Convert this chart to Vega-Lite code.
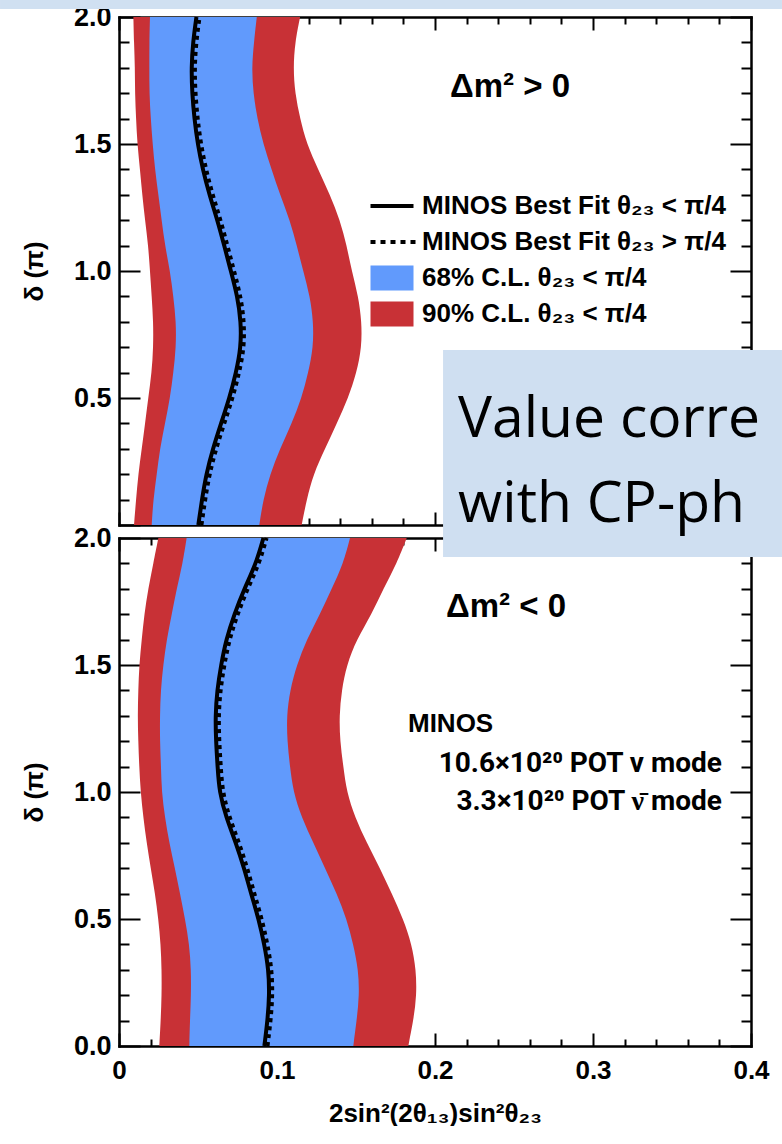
{
  "$schema": "https://vega.github.io/schema/vega-lite/v6.json",
  "padding": 0,
  "bounds": "flush",
  "spacing": 13,
  "background": "white",
  "config": {
    "view": {"stroke": null},
    "font": "Liberation Sans",
    "axis": {
      "grid": false,
      "domainColor": "black",
      "domainWidth": 2.5,
      "domainCap": "square",
      "tickColor": "black",
      "tickWidth": 2,
      "labelOverlap": false,
      "labelFlush": false,
      "labelFont": "Liberation Sans",
      "labelFontWeight": "bold",
      "labelColor": "black",
      "titleColor": "black",
      "titleFont": "Liberation Sans",
      "titleFontWeight": "bold",
      "zindex": 1
    }
  },
  "resolve": {"scale": {"color": "independent"}, "legend": {"color": "independent"}},
  "datasets": {
    "top": [
      {"d": 0.0, "rl": 0.0095, "bl": 0.0207, "bf": 0.0502, "bf2": 0.0522, "br": 0.0888, "rr": 0.1156},
      {"d": 0.1, "rl": 0.0108, "bl": 0.0217, "bf": 0.0525, "bf2": 0.0545, "br": 0.0913, "rr": 0.1188},
      {"d": 0.2, "rl": 0.0122, "bl": 0.0239, "bf": 0.0552, "bf2": 0.0572, "br": 0.0956, "rr": 0.1230},
      {"d": 0.3, "rl": 0.0144, "bl": 0.0259, "bf": 0.0594, "bf2": 0.0614, "br": 0.1019, "rr": 0.1304},
      {"d": 0.4, "rl": 0.0165, "bl": 0.0291, "bf": 0.0646, "bf2": 0.0666, "br": 0.1093, "rr": 0.1378},
      {"d": 0.5, "rl": 0.0185, "bl": 0.0323, "bf": 0.0699, "bf2": 0.0719, "br": 0.1156, "rr": 0.1451},
      {"d": 0.6, "rl": 0.0207, "bl": 0.0344, "bf": 0.0741, "bf2": 0.0761, "br": 0.1198, "rr": 0.1504},
      {"d": 0.7, "rl": 0.0217, "bl": 0.0361, "bf": 0.0772, "bf2": 0.0792, "br": 0.1230, "rr": 0.1536},
      {"d": 0.8, "rl": 0.0217, "bl": 0.0361, "bf": 0.0772, "bf2": 0.0792, "br": 0.1230, "rr": 0.1536},
      {"d": 0.9, "rl": 0.0207, "bl": 0.0344, "bf": 0.0750, "bf2": 0.0770, "br": 0.1209, "rr": 0.1515},
      {"d": 1.0, "rl": 0.0196, "bl": 0.0323, "bf": 0.0708, "bf2": 0.0728, "br": 0.1166, "rr": 0.1473},
      {"d": 1.1, "rl": 0.0185, "bl": 0.0291, "bf": 0.0666, "bf2": 0.0686, "br": 0.1125, "rr": 0.1441},
      {"d": 1.2, "rl": 0.0165, "bl": 0.0270, "bf": 0.0623, "bf2": 0.0643, "br": 0.1082, "rr": 0.1399},
      {"d": 1.3, "rl": 0.0147, "bl": 0.0249, "bf": 0.0572, "bf2": 0.0592, "br": 0.1019, "rr": 0.1335},
      {"d": 1.4, "rl": 0.0133, "bl": 0.0228, "bf": 0.0530, "bf2": 0.0550, "br": 0.0966, "rr": 0.1261},
      {"d": 1.5, "rl": 0.0116, "bl": 0.0213, "bf": 0.0498, "bf2": 0.0518, "br": 0.0913, "rr": 0.1188},
      {"d": 1.6, "rl": 0.0108, "bl": 0.0201, "bf": 0.0477, "bf2": 0.0497, "br": 0.0875, "rr": 0.1146},
      {"d": 1.7, "rl": 0.0101, "bl": 0.0192, "bf": 0.0463, "bf2": 0.0483, "br": 0.0850, "rr": 0.1114},
      {"d": 1.8, "rl": 0.0101, "bl": 0.0192, "bf": 0.0458, "bf2": 0.0478, "br": 0.0840, "rr": 0.1103},
      {"d": 1.9, "rl": 0.0095, "bl": 0.0192, "bf": 0.0468, "bf2": 0.0488, "br": 0.0854, "rr": 0.1114},
      {"d": 2.0, "rl": 0.0091, "bl": 0.0196, "bf": 0.0490, "bf2": 0.0510, "br": 0.0872, "rr": 0.1146}
    ],
    "bottom": [
      {"d": 0.0, "rl": 0.0255, "bl": 0.0445, "bf": 0.0920, "bf2": 0.0940, "br": 0.1483, "rr": 0.1831},
      {"d": 0.1, "rl": 0.0264, "bl": 0.0449, "bf": 0.0940, "bf2": 0.0960, "br": 0.1504, "rr": 0.1863},
      {"d": 0.2, "rl": 0.0270, "bl": 0.0456, "bf": 0.0952, "bf2": 0.0972, "br": 0.1521, "rr": 0.1884},
      {"d": 0.3, "rl": 0.0270, "bl": 0.0456, "bf": 0.0947, "bf2": 0.0967, "br": 0.1515, "rr": 0.1880},
      {"d": 0.4, "rl": 0.0264, "bl": 0.0445, "bf": 0.0920, "bf2": 0.0940, "br": 0.1483, "rr": 0.1853},
      {"d": 0.5, "rl": 0.0249, "bl": 0.0418, "bf": 0.0884, "bf2": 0.0904, "br": 0.1441, "rr": 0.1799},
      {"d": 0.6, "rl": 0.0228, "bl": 0.0386, "bf": 0.0836, "bf2": 0.0856, "br": 0.1378, "rr": 0.1726},
      {"d": 0.7, "rl": 0.0201, "bl": 0.0354, "bf": 0.0792, "bf2": 0.0812, "br": 0.1304, "rr": 0.1652},
      {"d": 0.8, "rl": 0.0175, "bl": 0.0318, "bf": 0.0740, "bf2": 0.0760, "br": 0.1230, "rr": 0.1568},
      {"d": 0.9, "rl": 0.0154, "bl": 0.0291, "bf": 0.0678, "bf2": 0.0698, "br": 0.1156, "rr": 0.1494},
      {"d": 1.0, "rl": 0.0137, "bl": 0.0270, "bf": 0.0635, "bf2": 0.0655, "br": 0.1103, "rr": 0.1441},
      {"d": 1.1, "rl": 0.0128, "bl": 0.0266, "bf": 0.0624, "bf2": 0.0644, "br": 0.1082, "rr": 0.1420},
      {"d": 1.2, "rl": 0.0122, "bl": 0.0259, "bf": 0.0614, "bf2": 0.0634, "br": 0.1065, "rr": 0.1399},
      {"d": 1.3, "rl": 0.0118, "bl": 0.0259, "bf": 0.0610, "bf2": 0.0630, "br": 0.1061, "rr": 0.1394},
      {"d": 1.4, "rl": 0.0122, "bl": 0.0264, "bf": 0.0621, "bf2": 0.0641, "br": 0.1082, "rr": 0.1409},
      {"d": 1.5, "rl": 0.0128, "bl": 0.0280, "bf": 0.0646, "bf2": 0.0666, "br": 0.1125, "rr": 0.1441},
      {"d": 1.6, "rl": 0.0144, "bl": 0.0302, "bf": 0.0678, "bf2": 0.0698, "br": 0.1188, "rr": 0.1504},
      {"d": 1.7, "rl": 0.0160, "bl": 0.0334, "bf": 0.0730, "bf2": 0.0750, "br": 0.1272, "rr": 0.1599},
      {"d": 1.8, "rl": 0.0185, "bl": 0.0365, "bf": 0.0793, "bf2": 0.0813, "br": 0.1346, "rr": 0.1673},
      {"d": 1.9, "rl": 0.0217, "bl": 0.0403, "bf": 0.0868, "bf2": 0.0888, "br": 0.1420, "rr": 0.1758},
      {"d": 2.0, "rl": 0.0249, "bl": 0.0428, "bf": 0.0914, "bf2": 0.0934, "br": 0.1462, "rr": 0.1821}
    ]
  },
  "vconcat": [
    {
      "width": 632,
      "height": 508,
      "data": {"name": "top"},
      "resolve": {"axis": {"x": "independent", "y": "independent"}},
      "layer": [
        {
          "data": {"values": [{"part": "banner"}]},
          "mark": {"type": "rect", "color": "#d0e0f1"},
          "encoding": {
            "x": {"datum": -0.0753, "type": "quantitative", "scale": {"domain": [0, 0.4], "nice": false, "zero": false}, "axis": null},
            "x2": {"datum": 0.4196},
            "y": {"datum": 2.0669, "type": "quantitative", "scale": {"domain": [0, 2], "nice": false, "zero": false}, "axis": null},
            "y2": {"datum": 2.0315}
          }
        },
        {
          "mark": {"type": "area", "orient": "horizontal", "interpolate": "basis"},
          "encoding": {
            "y": {"field": "d", "type": "quantitative", "scale": {"domain": [0, 2], "nice": false, "zero": false},
              "axis": {"orient": "left", "values": [0,0.1,0.2,0.3,0.4,0.5,0.6,0.7,0.8,0.9,1,1.1,1.2,1.3,1.4,1.5,1.6,1.7,1.8,1.9,2],
                "labelExpr": "(abs(datum.value*2-round(datum.value*2))<0.001 && datum.value>0.01) ? format(datum.value,'.1f') : ''",
                "labelFontSize": 27, "labelPadding": 29, "labelAlign": "right", "labelBaseline": "middle",
                "tickSize": {"condition": {"test": "abs(datum.value*2-round(datum.value*2))<0.001", "value": -21}, "value": -10},
                "title": "δ (π)", "titleFontSize": 26, "titlePadding": 26}},
            "x": {"field": "rl", "type": "quantitative", "scale": {"domain": [0, 0.4], "nice": false, "zero": false},
              "axis": {"orient": "bottom", "values": [0,0.02,0.04,0.06,0.08,0.1,0.12,0.14,0.16,0.18,0.2,0.22,0.24,0.26,0.28,0.3,0.32,0.34,0.36,0.38,0.4],
                "labels": false, "title": null,
                "tickSize": {"condition": {"test": "abs(datum.value*10-round(datum.value*10))<0.001", "value": -13}, "value": -7}}},
            "x2": {"field": "rr"},
            "color": {"datum": "90% C.L. θ₂₃ < π/4", "type": "nominal",
              "scale": {"domain": ["MINOS Best Fit θ₂₃ < π/4", "MINOS Best Fit θ₂₃ > π/4", "68% C.L. θ₂₃ < π/4", "90% C.L. θ₂₃ < π/4"],
                "range": ["black", "black", "#619afc", "#c83136"]},
              "legend": {"orient": "none", "legendX": 260, "legendY": 176, "title": null, "padding": 0,
                "symbolSize": 625, "symbolStrokeWidth": 0,
                "labelFont": "Liberation Sans", "labelFontSize": 26, "labelFontWeight": "bold", "labelColor": "black",
                "labelOffset": 17, "rowPadding": 10, "labelLimit": 0, "labelBaseline": "middle",
                "encode": {"symbols": {"update": {
                  "shape": {"signal": "datum.index == 0 ? 'M-1.72,-0.16H1.72V0.16H-1.72Z' : (datum.index == 1 ? 'M-1.72,-0.16h0.4v0.32h-0.4Z M-0.92,-0.16h0.4v0.32h-0.4Z M-0.12,-0.16h0.4v0.32h-0.4Z M0.68,-0.16h0.4v0.32h-0.4Z M1.48,-0.16h0.4v0.32h-0.4Z' : 'M-1.72,-1H1.72V1H-1.72Z')"},
                  "fill": {"signal": "datum.index < 2 ? 'black' : (datum.index == 2 ? '#619afc' : '#c83136')"},
                  "stroke": {"value": "transparent"},
                  "strokeWidth": {"value": 0},
                  "opacity": {"value": 1}
                }}}}}
          }
        },
        {
          "mark": {"type": "area", "orient": "horizontal", "interpolate": "basis"},
          "encoding": {
            "y": {"field": "d", "type": "quantitative", "scale": {"domain": [0, 2], "nice": false, "zero": false},
              "axis": {"orient": "right", "values": [0,0.1,0.2,0.3,0.4,0.5,0.6,0.7,0.8,0.9,1,1.1,1.2,1.3,1.4,1.5,1.6,1.7,1.8,1.9,2],
                "labels": false, "title": null,
                "tickSize": {"condition": {"test": "abs(datum.value*2-round(datum.value*2))<0.001", "value": -21}, "value": -10}}},
            "x": {"field": "bl", "type": "quantitative", "scale": {"domain": [0, 0.4], "nice": false, "zero": false},
              "axis": {"orient": "top", "values": [0,0.02,0.04,0.06,0.08,0.1,0.12,0.14,0.16,0.18,0.2,0.22,0.24,0.26,0.28,0.3,0.32,0.34,0.36,0.38,0.4],
                "labels": false, "title": null,
                "tickSize": {"condition": {"test": "abs(datum.value*10-round(datum.value*10))<0.001", "value": -13}, "value": -7}}},
            "x2": {"field": "br"},
            "color": {"datum": "68% C.L. θ₂₃ < π/4", "type": "nominal"}
          }
        },
        {
          "mark": {"type": "line", "interpolate": "basis", "strokeWidth": 4, "strokeCap": "butt"},
          "encoding": {
            "y": {"field": "d", "type": "quantitative", "scale": {"domain": [0, 2], "nice": false, "zero": false}, "axis": null},
            "x": {"field": "bf", "type": "quantitative", "scale": {"domain": [0, 0.4], "nice": false, "zero": false}, "axis": null},
            "order": {"field": "d", "type": "quantitative"},
            "color": {"datum": "MINOS Best Fit θ₂₃ < π/4", "type": "nominal"}
          }
        },
        {
          "mark": {"type": "line", "interpolate": "basis", "strokeWidth": 4, "strokeCap": "butt", "strokeDash": [4, 4]},
          "encoding": {
            "y": {"field": "d", "type": "quantitative", "scale": {"domain": [0, 2], "nice": false, "zero": false}, "axis": null},
            "x": {"field": "bf2", "type": "quantitative", "scale": {"domain": [0, 0.4], "nice": false, "zero": false}, "axis": null},
            "order": {"field": "d", "type": "quantitative"},
            "color": {"datum": "MINOS Best Fit θ₂₃ > π/4", "type": "nominal"}
          }
        },
        {
          "data": {"values": [{"t": "Δm² > 0"}]},
          "mark": {"type": "text", "align": "left", "baseline": "middle", "font": "Liberation Sans", "fontSize": 33, "fontWeight": "bold", "color": "black"},
          "encoding": {
            "x": {"datum": 0.2095, "type": "quantitative", "scale": {"domain": [0, 0.4], "nice": false, "zero": false}, "axis": null},
            "y": {"datum": 1.7256, "type": "quantitative", "scale": {"domain": [0, 2], "nice": false, "zero": false}, "axis": null},
            "text": {"field": "t"}
          }
        }
      ]
    },
    {
      "width": 632,
      "height": 508,
      "data": {"name": "bottom"},
      "resolve": {"axis": {"x": "independent", "y": "independent"}},
      "layer": [
        {
          "mark": {"type": "area", "orient": "horizontal", "interpolate": "basis", "color": "#c83136"},
          "encoding": {
            "y": {"field": "d", "type": "quantitative", "scale": {"domain": [0, 2], "nice": false, "zero": false},
              "axis": {"orient": "left", "values": [0,0.1,0.2,0.3,0.4,0.5,0.6,0.7,0.8,0.9,1,1.1,1.2,1.3,1.4,1.5,1.6,1.7,1.8,1.9,2],
                "labelExpr": "abs(datum.value*2-round(datum.value*2))<0.001 ? format(datum.value,'.1f') : ''",
                "labelFontSize": 27, "labelPadding": 29, "labelAlign": "right", "labelBaseline": "middle",
                "tickSize": {"condition": {"test": "abs(datum.value*2-round(datum.value*2))<0.001", "value": -21}, "value": -10},
                "title": "δ (π)", "titleFontSize": 26, "titlePadding": 26}},
            "x": {"field": "rl", "type": "quantitative", "scale": {"domain": [0, 0.4], "nice": false, "zero": false},
              "axis": {"orient": "bottom", "values": [0,0.02,0.04,0.06,0.08,0.1,0.12,0.14,0.16,0.18,0.2,0.22,0.24,0.26,0.28,0.3,0.32,0.34,0.36,0.38,0.4],
                "labelExpr": "abs(datum.value*10-round(datum.value*10))<0.001 ? (datum.value==0 ? '0' : format(datum.value,'.1f')) : ''",
                "labelFontSize": 26, "labelPadding": 24, "labelAlign": "center", "labelBaseline": "top",
                "tickSize": {"condition": {"test": "abs(datum.value*10-round(datum.value*10))<0.001", "value": -13}, "value": -7},
                "title": "2sin²(2θ₁₃)sin²θ₂₃", "titleFontSize": 26, "titlePadding": 11}},
            "x2": {"field": "rr"}
          }
        },
        {
          "mark": {"type": "area", "orient": "horizontal", "interpolate": "basis", "color": "#619afc"},
          "encoding": {
            "y": {"field": "d", "type": "quantitative", "scale": {"domain": [0, 2], "nice": false, "zero": false},
              "axis": {"orient": "right", "values": [0,0.1,0.2,0.3,0.4,0.5,0.6,0.7,0.8,0.9,1,1.1,1.2,1.3,1.4,1.5,1.6,1.7,1.8,1.9,2],
                "labels": false, "title": null, "zindex": 0,
                "tickSize": {"condition": {"test": "abs(datum.value*2-round(datum.value*2))<0.001", "value": -21}, "value": -10}}},
            "x": {"field": "bl", "type": "quantitative", "scale": {"domain": [0, 0.4], "nice": false, "zero": false},
              "axis": {"orient": "top", "values": [0,0.02,0.04,0.06,0.08,0.1,0.12,0.14,0.16,0.18,0.2,0.22,0.24,0.26,0.28,0.3,0.32,0.34,0.36,0.38,0.4],
                "labels": false, "title": null, "zindex": 0,
                "tickSize": {"condition": {"test": "abs(datum.value*10-round(datum.value*10))<0.001", "value": -13}, "value": -7}}},
            "x2": {"field": "br"}
          }
        },
        {
          "mark": {"type": "line", "interpolate": "basis", "strokeWidth": 4, "strokeCap": "butt", "color": "black"},
          "encoding": {
            "y": {"field": "d", "type": "quantitative", "scale": {"domain": [0, 2], "nice": false, "zero": false}, "axis": null},
            "x": {"field": "bf", "type": "quantitative", "scale": {"domain": [0, 0.4], "nice": false, "zero": false}, "axis": null},
            "order": {"field": "d", "type": "quantitative"}
          }
        },
        {
          "mark": {"type": "line", "interpolate": "basis", "strokeWidth": 4, "strokeCap": "butt", "strokeDash": [4, 4], "color": "black"},
          "encoding": {
            "y": {"field": "d", "type": "quantitative", "scale": {"domain": [0, 2], "nice": false, "zero": false}, "axis": null},
            "x": {"field": "bf2", "type": "quantitative", "scale": {"domain": [0, 0.4], "nice": false, "zero": false}, "axis": null},
            "order": {"field": "d", "type": "quantitative"}
          }
        },
        {
          "data": {"values": [{"t": "Δm² < 0"}]},
          "mark": {"type": "text", "align": "left", "baseline": "middle", "font": "Liberation Sans", "fontSize": 33, "fontWeight": "bold", "color": "black"},
          "encoding": {
            "x": {"datum": 0.2070, "type": "quantitative", "scale": {"domain": [0, 0.4], "nice": false, "zero": false}, "axis": null},
            "y": {"datum": 1.728, "type": "quantitative", "scale": {"domain": [0, 2], "nice": false, "zero": false}, "axis": null},
            "text": {"field": "t"}
          }
        },
        {
          "data": {"values": [{"t": "MINOS"}]},
          "mark": {"type": "text", "align": "left", "baseline": "alphabetic", "font": "Liberation Sans", "fontSize": 26, "fontWeight": "bold", "color": "black"},
          "encoding": {
            "x": {"datum": 0.1829, "type": "quantitative", "scale": {"domain": [0, 0.4], "nice": false, "zero": false}, "axis": null},
            "y": {"datum": 1.236, "type": "quantitative", "scale": {"domain": [0, 2], "nice": false, "zero": false}, "axis": null},
            "text": {"field": "t"}
          }
        },
        {
          "data": {"values": [{"t": "10.6×10²⁰ POT ν mode\n3.3×10²⁰ POT ν̄ mode"}]},
          "mark": {"type": "text", "align": "right", "baseline": "alphabetic", "font": "Roboto", "fontSize": 28, "fontWeight": "bold", "color": "black", "lineBreak": "\n", "lineHeight": 38.5},
          "encoding": {
            "x": {"datum": 0.3816, "type": "quantitative", "scale": {"domain": [0, 0.4], "nice": false, "zero": false}, "axis": null},
            "y": {"datum": 1.079, "type": "quantitative", "scale": {"domain": [0, 2], "nice": false, "zero": false}, "axis": null},
            "text": {"field": "t"}
          }
        },
        {
          "data": {"values": [{"part": "overlay"}]},
          "mark": {"type": "rect", "color": "#cfdff1"},
          "encoding": {
            "x": {"datum": 0.2051, "type": "quantitative", "scale": {"domain": [0, 0.4], "nice": false, "zero": false}, "axis": null},
            "x2": {"datum": 0.4196},
            "y": {"datum": 2.740, "type": "quantitative", "scale": {"domain": [0, 2], "nice": false, "zero": false}, "axis": null},
            "y2": {"datum": 1.925}
          }
        },
        {
          "data": {"values": [{"t": "Value correlates\nwith CP-phase"}]},
          "mark": {"type": "text", "align": "left", "baseline": "alphabetic", "font": "Open Sans", "fontSize": 57, "color": "black", "lineBreak": "\n", "lineHeight": 85, "limit": 324, "ellipsis": " "},
          "encoding": {
            "x": {"datum": 0.2146, "type": "quantitative", "scale": {"domain": [0, 0.4], "nice": false, "zero": false}, "axis": null},
            "y": {"datum": 2.398, "type": "quantitative", "scale": {"domain": [0, 2], "nice": false, "zero": false}, "axis": null},
            "text": {"field": "t"}
          }
        }
      ]
    }
  ]
}
